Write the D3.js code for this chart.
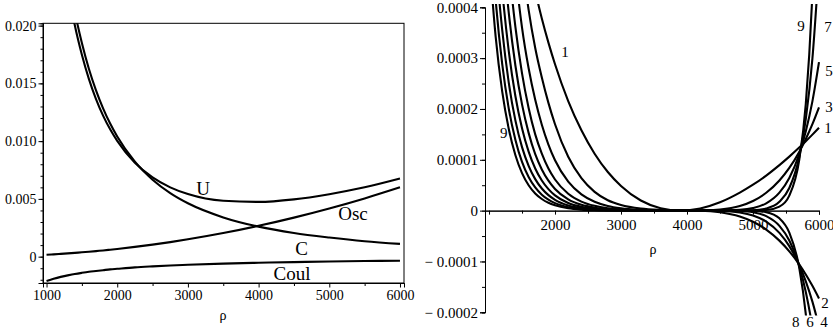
<!DOCTYPE html>
<html>
<head>
<meta charset="utf-8">
<script src="https://cdn.jsdelivr.net/npm/d3@7"></script>
<style>
  body { margin: 0; background: #fff; }
  svg  { display: block; }
  text { font-family: "Liberation Serif", "Times New Roman", serif; fill: #000; }
</style>
</head>
<body>
<svg id="chart" width="833" height="333"></svg>
<script>
// ── DATA: left panel ────────────────────────────────
const rhoL = [1000, 1100, 1200, 1300, 1400, 1500, 1600, 1700, 1800, 1900, 2000,
              2250, 2500, 2750, 3000, 3500, 4000, 4500, 5000, 5500, 6000];
const uVals    = [0.03967, 0.03269, 0.02739, 0.02328, 0.02003, 0.01748, 0.01537, 0.01364, 0.01221, 0.01102, 0.01002,
                  0.00813, 0.00686, 0.0060, 0.00542, 0.00484, 0.00474, 0.00496, 0.00541, 0.0060, 0.00676];
const cVals    = [0.0416, 0.0344, 0.0289, 0.0246, 0.0212, 0.0185, 0.01625, 0.0144, 0.01284, 0.01152, 0.0104,
                  0.00822, 0.00666, 0.0055, 0.00462, 0.0034, 0.0026, 0.00205, 0.00166, 0.00134, 0.00111];
const oscVals  = [0.000167, 0.000202, 0.00024, 0.000282, 0.000327, 0.000375, 0.000427, 0.000482, 0.00054, 0.000602, 0.000667,
                  0.000844, 0.00104, 0.00126, 0.0015, 0.00204, 0.00267, 0.00338, 0.00417, 0.00504, 0.006];
const coulVals = [-0.0021, -0.00191, -0.00175, -0.00162, -0.0015, -0.0014, -0.00131, -0.00124, -0.00117, -0.0011, -0.00105,
                  -0.00093, -0.00084, -0.00076, -0.0007, -0.0006, -0.00053, -0.00047, -0.00042, -0.00038, -0.00035];

const leftTicksY  = [0, 0.005, 0.010, 0.015, 0.020];
const leftTickFmt = ['0', '0.005', '0.010', '0.015', '0.020'];
const leftTicksX  = [1000, 2000, 3000, 4000, 5000, 6000];

// ── DATA: right panel (curves 1..9) ─────────────────
const rhoR = [1000, 1100, 1200, 1300, 1400, 1500, 1600, 1700, 1800, 1900, 2000, 2200, 2400, 2600, 2800,
              3000, 3300, 3600, 3900, 4200, 4500, 4800, 5000, 5200, 5400, 5550, 5700, 5800, 5900, 6000];
const curve1 = [1.09e-3, 9.5e-4, 8.3e-4, 7.3e-4, 6.4e-4, 5.6e-4, 4.93e-4, 4.32e-4, 3.78e-4, 3.305e-4, 2.88e-4, 2.155e-4, 1.58e-4, 1.12e-4, 7.6e-5,
                4.86e-5, 2.0e-5, 4.8e-6, 0, 4.3e-6, 1.65e-5, 3.55e-5, 5.1e-5, 6.9e-5, 8.95e-5, 1.062e-4, 1.24e-4, 1.365e-4, 1.495e-4, 1.63e-4];
const curve2 = [1.53e-3, 1.22e-3, 9.76e-4, 7.78e-4, 6.2e-4, 4.95e-4, 3.95e-4, 3.2e-4, 2.62e-4, 2.12e-4, 1.7e-4, 1.06e-4, 6.4e-5, 3.7e-5, 2.05e-5,
                1.12e-5, 4.1e-6, 1.2e-6, 0, -3e-7, -3.1e-6, -1.15e-5, -2.18e-5, -3.73e-5, -5.9e-5, -8.0e-5, -1.056e-4, -1.256e-4, -1.48e-4, -1.73e-4];
const curve3 = [1.35e-3, 1.04e-3, 7.98e-4, 6.13e-4, 4.7e-4, 3.6e-4, 2.8e-4, 2.18e-4, 1.69e-4, 1.3e-4, 9.9e-5, 5.7e-5, 3.2e-5, 1.75e-5, 9.2e-6,
                4.6e-6, 1.5e-6, 3e-7, 0, 0, 2.1e-6, 9.1e-6, 1.9e-5, 3.51e-5, 5.93e-5, 8.4e-5, 1.155e-4, 1.41e-4, 1.7e-4, 2.03e-4];
const curve4 = [1.14e-3, 8.57e-4, 6.44e-4, 4.83e-4, 3.61e-4, 2.7e-4, 2.02e-4, 1.5e-4, 1.12e-4, 8.28e-5, 6.13e-5, 3.33e-5, 1.78e-5, 9.4e-6, 4.8e-6,
                2.4e-6, 7e-7, 1e-7, 0, 0, -5e-7, -3.6e-6, -9.6e-6, -2.17e-5, -4.38e-5, -6.99e-5, -1.07e-4, -1.39e-4, -1.79e-4, -2.28e-4];
const curve5 = [9.73e-4, 7.17e-4, 5.28e-4, 3.88e-4, 2.85e-4, 2.09e-4, 1.53e-4, 1.11e-4, 8.11e-5, 5.9e-5, 4.27e-5, 2.23e-5, 1.14e-5, 5.8e-6, 2.8e-6,
                1.4e-6, 4e-7, 1e-7, 0, 0, 0, 1.4e-6, 5.1e-6, 1.44e-5, 3.54e-5, 6.44e-5, 1.11e-4, 1.56e-4, 2.15e-4, 2.92e-4];
const curve6 = [8.33e-4, 6.01e-4, 4.34e-4, 3.13e-4, 2.25e-4, 1.62e-4, 1.16e-4, 8.3e-5, 5.93e-5, 4.23e-5, 3.0e-5, 1.5e-5, 7.4e-6, 3.6e-6, 1.7e-6,
                8e-7, 2e-7, 0, 0, 0, 0, -8e-7, -3.3e-6, -1.08e-5, -2.99e-5, -5.87e-5, -1.09e-4, -1.6e-4, -2.3e-4, -3.25e-4];
const curve7 = [7.05e-4, 5.0e-4, 3.55e-4, 2.51e-4, 1.77e-4, 1.25e-4, 8.82e-5, 6.2e-5, 4.35e-5, 3.05e-5, 2.13e-5, 1.03e-5, 4.9e-6, 2.3e-6, 1.0e-6,
                5e-7, 1e-7, 0, 0, 0, 0, 0, 8e-7, 4.2e-6, 1.73e-5, 4.45e-5, 1.05e-4, 1.8e-4, 2.99e-4, 4.84e-4];
const curve8 = [5.96e-4, 4.15e-4, 2.88e-4, 2.0e-4, 1.39e-4, 9.58e-5, 6.61e-5, 4.56e-5, 3.13e-5, 2.15e-5, 1.47e-5, 6.8e-6, 3.1e-6, 1.4e-6, 6e-7,
                3e-7, 1e-7, 0, 0, 0, 0, 0, -5e-7, -3.1e-6, -1.51e-5, -4.31e-5, -1.12e-4, -2.035e-4, -3.58e-4, -6.12e-4];
const curve9 = [5.03e-4, 3.43e-4, 2.34e-4, 1.6e-4, 1.09e-4, 7.38e-5, 5.0e-5, 3.38e-5, 2.29e-5, 1.54e-5, 1.04e-5, 4.6e-6, 2.0e-6, 9e-7, 4e-7,
                2e-7, 1e-7, 0, 0, 0, 0, 0, 0, 1.1e-6, 7.9e-6, 2.96e-5, 9.92e-5, 2.1e-4, 4.29e-4, 8.45e-4];
const curvesR = [curve1, curve2, curve3, curve4, curve5, curve6, curve7, curve8, curve9];

const rightTicksY  = [-0.0002, -0.0001, 0, 0.0001, 0.0002, 0.0003, 0.0004];
const rightTickFmt = ['\u2212 0.0002', '\u2212 0.0001', '0', '0.0001', '0.0002', '0.0003', '0.0004'];
const rightTicksX  = [1000, 2000, 3000, 4000, 5000, 6000];

// curve labels: [text, rho, value]
const leftLabels  = [['U', 3214, 0.00595], ['Osc', 5335, 0.00378], ['C', 4610, 0.00075], ['Coul', 4472, -0.00141]];
const rightLabels = [['1', 2152, 0.000312], ['9', 1225, 0.000153],
                     ['9', 5727, 0.000364], ['7', 6136, 0.000362], ['5', 6152, 0.000276], ['3', 6152, 0.000205], ['1', 6136, 0.000164],
                     ['2', 6091, -0.000181], ['8', 5647, -0.000218], ['6', 5864, -0.000218], ['4', 6076, -0.000218]];

// ── SETUP ───────────────────────────────────────────
const svg = d3.select('#chart');
const zip = (xs, ys) => xs.map((x, i) => [x, ys[i]]);

function styleAxis(g, size) {
  g.selectAll('path, line').attr('stroke', '#000').attr('stroke-width', 1);
  g.selectAll('text').attr('font-family', '"Liberation Serif", serif').attr('font-size', size || 14).attr('fill', '#000');
}

// ── LEFT PANEL ──────────────────────────────────────
const xL = d3.scaleLinear().domain([950, 6057]).range([43, 404]);
const yL = d3.scaleLinear().domain([-0.00228, 0.0202]).range([283, 23.3]);

svg.append('clipPath').attr('id', 'clipL')
  .append('rect').attr('x', 43).attr('y', 23.3).attr('width', 361).attr('height', 259.7);

// minor ticks
svg.append('g').attr('transform', 'translate(43,0)')
  .call(d3.axisLeft(yL).tickValues(d3.range(-2, 21).map(k => k * 0.001)).tickSize(2.5).tickFormat(''))
  .call(styleAxis);
svg.append('g').attr('transform', 'translate(0,283)')
  .call(d3.axisBottom(xL).tickValues(d3.range(1500, 6000, 1000)).tickSize(3).tickFormat(''))
  .call(styleAxis);
// major ticks
svg.append('g').attr('transform', 'translate(43,0)')
  .call(d3.axisLeft(yL).tickValues(leftTicksY).tickSize(4.5).tickPadding(2)
    .tickFormat((d, i) => leftTickFmt[i]))
  .call(styleAxis);
svg.append('g').attr('transform', 'translate(0,283)')
  .call(d3.axisBottom(xL).tickValues(leftTicksX).tickSize(4.5).tickPadding(3).tickFormat(d3.format('d')))
  .call(styleAxis);

// frame
svg.append('rect').attr('x', 43).attr('y', 23.3).attr('width', 361).attr('height', 259.7)
  .attr('fill', 'none').attr('stroke', '#000').attr('stroke-width', 1);

const lineL = d3.line().x(d => xL(d[0])).y(d => yL(d[1])).curve(d3.curveMonotoneX);
const gL = svg.append('g').attr('clip-path', 'url(#clipL)');
[uVals, cVals, oscVals, coulVals].forEach(vals => {
  gL.append('path').datum(zip(rhoL, vals))
    .attr('d', lineL).attr('fill', 'none').attr('stroke', '#000').attr('stroke-width', 2.1);
});

leftLabels.forEach(([t, r, v]) => {
  svg.append('text').attr('x', xL(r)).attr('y', yL(v)).attr('dy', '0.35em')
    .attr('text-anchor', 'middle').attr('font-size', 19).text(t);
});
svg.append('text').attr('x', 223).attr('y', 315).attr('dy', '0.35em')
  .attr('text-anchor', 'middle').attr('font-size', 14).text('\u03c1');

// ── RIGHT PANEL ─────────────────────────────────────
const xR = d3.scaleLinear().domain([939, 6000]).range([485, 819]);
const yR = d3.scaleLinear().domain([-0.0002, 0.0004]).range([312.3, 7.3]);

svg.append('clipPath').attr('id', 'clipR')
  .append('rect').attr('x', 485).attr('y', 4).attr('width', 340).attr('height', 311.5);

svg.append('g').attr('transform', 'translate(485,0)')
  .call(d3.axisLeft(yR).tickValues(d3.range(-4, 9).map(k => k * 0.00005)).tickSize(3).tickFormat(''))
  .call(styleAxis);
svg.append('g').attr('transform', 'translate(485,0)')
  .call(d3.axisLeft(yR).tickValues(rightTicksY).tickSize(5).tickPadding(2)
    .tickFormat((d, i) => rightTickFmt[i]))
  .call(g => styleAxis(g, 15));
svg.append('g').attr('transform', `translate(0,${yR(0)})`)
  .call(d3.axisBottom(xR).tickValues(d3.range(1500, 6000, 1000)).tickSize(3).tickFormat(''))
  .call(styleAxis);
svg.append('g').attr('transform', `translate(0,${yR(0)})`)
  .call(d3.axisBottom(xR).tickValues(rightTicksX).tickSize(4).tickPadding(5)
    .tickFormat(d => d === 1000 ? '' : d))
  .call(g => styleAxis(g, 15));

const lineR = d3.line().x(d => xR(d[0])).y(d => yR(d[1])).curve(d3.curveMonotoneX);
const gR = svg.append('g').attr('clip-path', 'url(#clipR)');
curvesR.forEach(vals => {
  gR.append('path').datum(zip(rhoR, vals))
    .attr('d', lineR).attr('fill', 'none').attr('stroke', '#000').attr('stroke-width', 2.1);
});

rightLabels.forEach(([t, r, v]) => {
  svg.append('text').attr('x', xR(r)).attr('y', yR(v)).attr('dy', '0.35em')
    .attr('text-anchor', 'middle').attr('font-size', 15).text(t);
});
svg.append('text').attr('x', 653).attr('y', 249).attr('dy', '0.35em')
  .attr('text-anchor', 'middle').attr('font-size', 14).text('\u03c1');
</script>
</body>
</html>
